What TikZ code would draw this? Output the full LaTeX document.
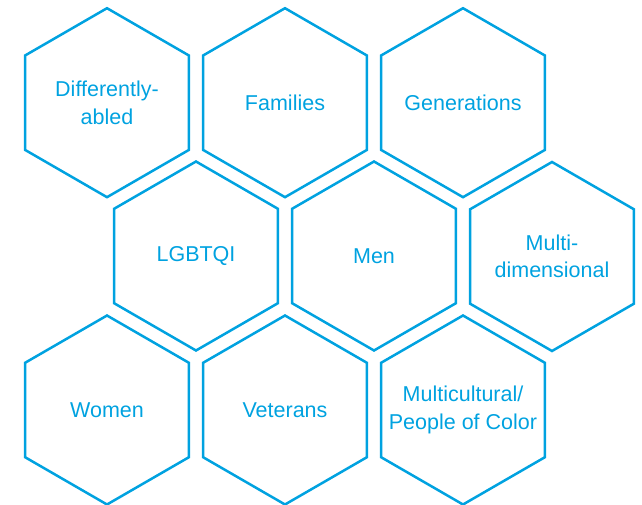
\documentclass[tikz,border=0pt]{standalone}
\usepackage{fontspec}
\setmainfont{Liberation Sans}
\usetikzlibrary{shapes.geometric}
\definecolor{hexblue}{HTML}{00A2E0}
\begin{document}
\begin{tikzpicture}[x=1pt,y=-1pt,
  hexcell/.style={regular polygon, regular polygon sides=6, shape border rotate=30,
    minimum size=189pt, inner sep=0pt, draw=hexblue, line width=2.5pt, line join=miter},
  hexlabel/.style={text=hexblue, align=center, inner sep=0pt,
    font=\fontsize{21.5}{27.5}\selectfont}]
\useasboundingbox (0,0) rectangle (642,505);

% top row
\node[hexcell] (h1) at (107,102.7) {};
\node[hexcell] (h2) at (285,102.7) {};
\node[hexcell] (h3) at (463,102.7) {};
% middle row, shifted half a cell
\node[hexcell] (h4) at (196,256) {};
\node[hexcell] (h5) at (374,256) {};
\node[hexcell] (h6) at (552,256.5) {};
% bottom row
\node[hexcell] (h7) at (107,410) {};
\node[hexcell] (h8) at (285,410) {};
\node[hexcell] (h9) at (463,410) {};

\node[hexlabel] (t1) at (h1.center) {Differently-\\abled};
\node[hexlabel] (t2) at (h2.center) {Families};
\node[hexlabel] (t3) at (h3.center) {Generations};
\node[hexlabel] (t4) at (h4.center) {LGBTQI};
\node[hexlabel] (t5) at (h5.center) {Men};
\node[hexlabel] (t6) at (h6.center) {Multi-\\dimensional};
\node[hexlabel] (t7) at (h7.center) {Women};
\node[hexlabel] (t8) at (h8.center) {Veterans};
\node[hexlabel] (t9) at (h9.center) {Multicultural/\\People of Color};
\end{tikzpicture}
\end{document}
